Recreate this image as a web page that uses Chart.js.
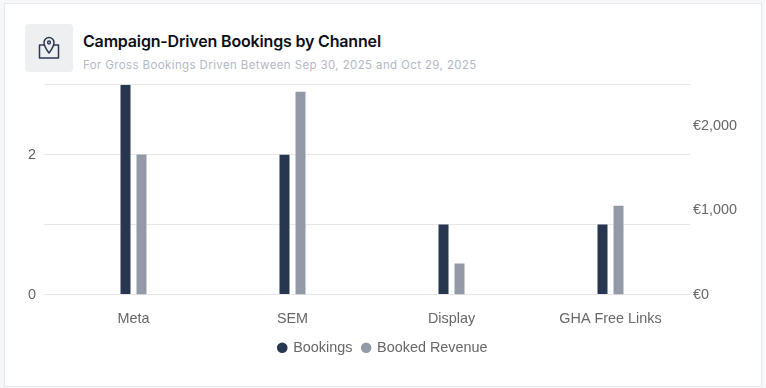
<!DOCTYPE html>
<html>
<head>
<meta charset="utf-8">
<script src="https://cdn.jsdelivr.net/npm/chart.js@4"></script>
<style>
  html, body { margin: 0; padding: 0; width: 766px; height: 388px; overflow: hidden; background: #f6f7f9; }
  .card { position: absolute; left: 4px; top: 3px; width: 756px; height: 382px; background: #fff; border: 1px solid #e5e7eb; }
  .icon { position: absolute; left: 25px; top: 24px; width: 48px; height: 48px; background: #eeeff1; border-radius: 4px; }
  .icon svg { position: absolute; left: 12px; top: 12px; }
  h1 { position: absolute; left: 83px; top: 31px; margin: 0; font: 600 16px "Inter", sans-serif; letter-spacing: -0.17px; line-height: 20px; color: #0b0f19; white-space: nowrap; }
  h2 { position: absolute; left: 83px; top: 57px; margin: 0; font: 400 11.5px "Inter", sans-serif; letter-spacing: 0.38px; line-height: 16px; color: #b4b8c4; white-space: nowrap; }
  .wrap { position: absolute; left: 0; top: 68px; width: 766px; height: 297px; }
</style>
</head>
<body>
<div class="card"></div>
<div class="icon">
  <svg width="24" height="24" viewBox="0 0 24 24" fill="none" stroke="#2b3a52" stroke-width="1.5" stroke-linejoin="round">
    <path d="M7 9H2.500V22H21.500V9H17"/>
    <path d="M12 17C9.500 13.500 7 10.500 7 6.500a5 5 0 0 1 10 0C17 10.500 14.500 13.500 12 17Z"/>
    <circle cx="12" cy="6.500" r="1.400"/>
  </svg>
</div>
<h1>Campaign-Driven Bookings by Channel</h1>
<h2>For Gross Bookings Driven Between Sep 30, 2025 and Oct 29, 2025</h2>
<div class="wrap"><canvas id="chartCanales"></canvas></div>

<script>
const categorias = ['Meta', 'SEM', 'Display', 'GHA Free Links'];
const bookings = [3, 2, 1, 1];
const bookedRevenue = [1657, 2402, 367, 1053];
const ticksBookings = [0, 2];
const ticksRevenue = [0, 1000, 2000];

const colorBookings = '#27374f';
const colorRevenue = '#939aa7';
const colorGrid = '#e5e7eb';
const colorTexto = '#666666';
const fuente = { family: '"Liberation Sans", Arial, sans-serif', size: 14.4 };

new Chart(document.getElementById('chartCanales').getContext('2d'), {
    type: 'bar',
    data: {
        labels: categorias,
        datasets: [
            { label: 'Bookings', data: bookings, backgroundColor: colorBookings, yAxisID: 'y', barPercentage: 0.625, categoryPercentage: 0.2013 },
            { label: 'Booked Revenue', data: bookedRevenue, backgroundColor: colorRevenue, yAxisID: 'y1', barPercentage: 0.625, categoryPercentage: 0.2013 }
        ]
    },
    options: {
        responsive: true,
        maintainAspectRatio: false,
        animation: false,
        layout: { padding: { top: 10, bottom: 0 } },
        plugins: {
            tooltip: { enabled: false },
            legend: {
                position: 'bottom',
                labels: { usePointStyle: true, pointStyle: 'circle', boxWidth: 7.5, boxHeight: 7.5, padding: 10, color: colorTexto, font: fuente }
            }
        },
        scales: {
            x: {
                afterFit: (axis) => { axis.height = 36; },
                grid: { display: false },
                border: { display: false },
                ticks: { color: colorTexto, font: fuente, padding: 8, maxRotation: 0 }
            },
            y: {
                min: 0,
                max: 3,
                afterFit: (axis) => { axis.width = 54; },
                grid: { color: colorGrid, tickLength: 10 },
                border: { display: false },
                ticks: {
                    stepSize: 1,
                    color: colorTexto,
                    font: fuente,
                    padding: 8,
                    callback: (v) => ticksBookings.includes(v) ? v : ''
                }
            },
            y1: {
                position: 'right',
                min: 0,
                max: 2485,
                afterFit: (axis) => { axis.width = 76; },
                afterBuildTicks: (axis) => { axis.ticks = ticksRevenue.map(value => ({ value })); },
                grid: { display: false, tickLength: 0 },
                border: { display: false },
                ticks: {
                    color: colorTexto,
                    font: fuente,
                    padding: 3,
                    callback: (v) => '€' + v.toLocaleString('en-US')
                }
            }
        }
    }
});
</script>
</body>
</html>
